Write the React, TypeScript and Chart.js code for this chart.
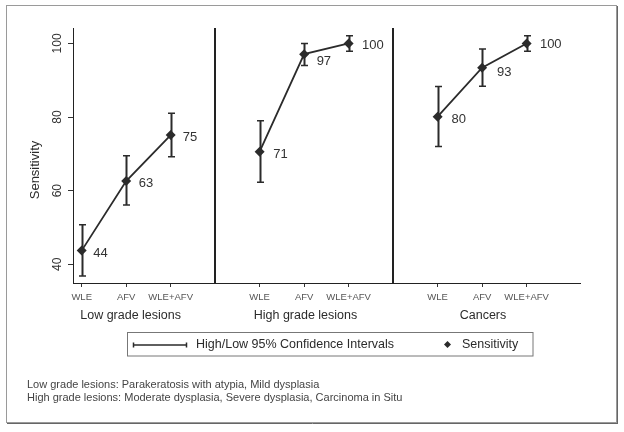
import React, { useEffect, useRef } from "react";
import { Chart, registerables } from "chart.js";

Chart.register(...registerables);

// ---- data ----
const categories = ["WLE", "AFV", "WLE+AFV"];
const panelTitles = ["Low grade lesions", "High grade lesions", "Cancers"];
const yTickValues = [40, 60, 80, 100];

const lowGradeSensitivity = [43.7, 62.6, 75.1];
const lowGradeLow = [36.8, 56.1, 69.2];
const lowGradeHigh = [50.7, 69.5, 81.0];

const highGradeSensitivity = [70.6, 97.1, 100];
const highGradeLow = [62.3, 94.0, 97.9];
const highGradeHigh = [79.0, 100.0, 102.1];

const cancerSensitivity = [80.1, 93.4, 100];
const cancerLow = [72.0, 88.4, 97.9];
const cancerHigh = [88.3, 98.5, 102.1];

const legendLabels = ["High/Low 95% Confidence Intervals", "Sensitivity"];
const yAxisTitle = "Sensitivity";
const footnotes = [
  "Low grade lesions: Parakeratosis with atypia, Mild dysplasia",
  "High grade lesions: Moderate dysplasia, Severe dysplasia, Carcinoma in Situ",
];

const sensitivities = [lowGradeSensitivity, highGradeSensitivity, cancerSensitivity];
const lows = [lowGradeLow, highGradeLow, cancerLow];
const highs = [lowGradeHigh, highGradeHigh, cancerHigh];

// ---- layout / style ----
const FONT = '"Liberation Sans", Arial, Helvetica, sans-serif';
const INK = "#2b2b2b";
const slot = (p: number, i: number) => p * 4 + i + 1;
const labelDy = [
  [3, 2.7, 2.7],
  [2.3, 7.3, 1.7],
  [2.6, 4.6, 1],
];
const labelDx = [
  [11.5, 12.5, 12],
  [13.5, 12.5, 13.3],
  [14, 15, 13.3],
];
const titleCenters = [2.1, 6.03, 10.02];

const decorPlugin = {
  id: "decor",
  beforeDraw(chart: any) {
    const ctx = chart.ctx;
    ctx.save();
    ctx.fillStyle = "#ffffff";
    ctx.fillRect(0, 0, chart.width, chart.height);
    ctx.strokeStyle = "#9a9a9a";
    ctx.lineWidth = 1;
    ctx.strokeRect(6.5, 5.5, 610, 417);
    ctx.strokeStyle = "#666";
    ctx.beginPath();
    ctx.moveTo(7, 423.5);
    ctx.lineTo(618, 423.5);
    ctx.moveTo(617.5, 6);
    ctx.lineTo(617.5, 424);
    ctx.stroke();
    ctx.restore();
  },
  beforeDatasetsDraw(chart: any) {
    const ctx = chart.ctx;
    const xs = chart.scales.x;
    const ys = chart.scales.y;
    ctx.save();
    ctx.strokeStyle = INK;
    for (let p = 0; p < 3; p++) {
      for (let i = 0; i < categories.length; i++) {
        const x = Math.round(xs.getPixelForValue(slot(p, i))) + 0.5;
        const yl = ys.getPixelForValue(lows[p][i]);
        const yh = ys.getPixelForValue(highs[p][i]);
        ctx.lineWidth = 2;
        ctx.beginPath();
        ctx.moveTo(x, yl);
        ctx.lineTo(x, yh);
        ctx.stroke();
        ctx.lineWidth = 1.5;
        ctx.beginPath();
        ctx.moveTo(x - 3.5, yl);
        ctx.lineTo(x + 3.5, yl);
        ctx.moveTo(x - 3.5, yh);
        ctx.lineTo(x + 3.5, yh);
        ctx.stroke();
      }
    }
    ctx.restore();
  },
  afterDraw(chart: any) {
    const ctx = chart.ctx;
    const xs = chart.scales.x;
    const ys = chart.scales.y;
    const area = chart.chartArea;
    ctx.save();

    // panel dividers
    ctx.strokeStyle = "#222";
    ctx.lineWidth = 2;
    [4, 8].forEach((v) => {
      const x = Math.round(xs.getPixelForValue(v));
      ctx.beginPath();
      ctx.moveTo(x, area.top);
      ctx.lineTo(x, area.bottom);
      ctx.stroke();
    });

    // value labels
    ctx.fillStyle = "#333";
    ctx.font = `13px ${FONT}`;
    ctx.textAlign = "left";
    ctx.textBaseline = "middle";
    for (let p = 0; p < 3; p++) {
      for (let i = 0; i < categories.length; i++) {
        const x = xs.getPixelForValue(slot(p, i));
        const y = ys.getPixelForValue(sensitivities[p][i]);
        ctx.fillText(String(Math.round(sensitivities[p][i])), x + labelDx[p][i], y + labelDy[p][i]);
      }
    }

    // y-axis title
    ctx.save();
    ctx.translate(35.5, 170);
    ctx.rotate(-Math.PI / 2);
    ctx.font = `13px ${FONT}`;
    ctx.fillStyle = INK;
    ctx.textAlign = "center";
    ctx.fillText(yAxisTitle, 0, 0);
    ctx.restore();

    // panel titles
    ctx.font = `12.5px ${FONT}`;
    ctx.fillStyle = INK;
    ctx.textAlign = "center";
    ctx.textBaseline = "middle";
    panelTitles.forEach((t, p) => {
      ctx.fillText(t, xs.getPixelForValue(titleCenters[p]), 316);
    });

    // legend
    ctx.strokeStyle = "#777";
    ctx.lineWidth = 1;
    ctx.strokeRect(127.5, 332.5, 405.5, 23.5);
    ctx.strokeStyle = INK;
    ctx.lineWidth = 1.5;
    ctx.beginPath();
    ctx.moveTo(133, 345);
    ctx.lineTo(187, 345);
    ctx.moveTo(133.5, 342.5);
    ctx.lineTo(133.5, 347.5);
    ctx.moveTo(186.5, 342.5);
    ctx.lineTo(186.5, 347.5);
    ctx.stroke();
    ctx.font = `12.5px ${FONT}`;
    ctx.fillStyle = INK;
    ctx.textAlign = "left";
    ctx.fillText(legendLabels[0], 196, 345);
    ctx.beginPath();
    ctx.moveTo(447.5, 341);
    ctx.lineTo(451, 344.5);
    ctx.lineTo(447.5, 348);
    ctx.lineTo(444, 344.5);
    ctx.closePath();
    ctx.fill();
    ctx.fillText(legendLabels[1], 462, 345);

    // footnotes
    ctx.font = `11px ${FONT}`;
    ctx.fillStyle = "#444";
    ctx.fillText(footnotes[0], 27, 384.7);
    ctx.fillText(footnotes[1], 27, 397.5);

    ctx.restore();
  },
};

export default function App() {
  const ref = useRef<HTMLCanvasElement | null>(null);

  useEffect(() => {
    if (!ref.current) return;
    const datasets = sensitivities.map((vals, p) => ({
      label: panelTitles[p],
      data: vals.map((v, i) => ({ x: slot(p, i), y: v })),
      borderColor: INK,
      backgroundColor: INK,
      borderWidth: 1.8,
      pointStyle: "rectRot" as const,
      pointRadius: 5,
      pointBackgroundColor: INK,
      pointBorderColor: INK,
      pointBorderWidth: 0,
      tension: 0,
      fill: false,
    }));

    const tickSlots: number[] = [];
    const tickNames: Record<number, string> = {};
    for (let p = 0; p < 3; p++) {
      categories.forEach((c, i) => {
        tickSlots.push(slot(p, i));
        tickNames[slot(p, i)] = c;
      });
    }

    const chart = new Chart(ref.current, {
      type: "line",
      data: { datasets },
      plugins: [decorPlugin],
      options: {
        animation: false,
        responsive: false,
        layout: { padding: { top: 28, right: 44, bottom: 0, left: 0 } },
        plugins: { legend: { display: false }, tooltip: { enabled: false }, title: { display: false } },
        scales: {
          x: {
            type: "linear",
            min: 0.805,
            max: 12.2,
            afterBuildTicks: (s: any) => {
              s.ticks = tickSlots.map((v) => ({ value: v }));
            },
            afterFit: (s: any) => {
              s.height = 149;
            },
            grid: { display: true, drawOnChartArea: false, drawTicks: true, tickLength: 4, color: "#333", lineWidth: 1 },
            border: { display: true, color: "#222", width: 1 },
            ticks: {
              autoSkip: false,
              maxRotation: 0,
              minRotation: 0,
              padding: 5,
              color: "#555",
              font: { family: FONT, size: 9.5 },
              callback: (v: any) => tickNames[Number(v)] ?? "",
            },
          },
          y: {
            type: "linear",
            min: 34.9,
            max: 104.2,
            afterBuildTicks: (s: any) => {
              s.ticks = yTickValues.map((v) => ({ value: v }));
            },
            afterFit: (s: any) => {
              s.width = 73;
            },
            grid: { display: true, drawOnChartArea: false, drawTicks: true, tickLength: 5, color: "#333", lineWidth: 1 },
            border: { display: true, color: "#222", width: 1 },
            ticks: {
              minRotation: 90,
              maxRotation: 90,
              crossAlign: "center",
              padding: 0,
              color: "#333",
              font: { family: FONT, size: 12 },
            },
          },
        },
      } as any,
    });
    return () => chart.destroy();
  }, []);

  return (
    <div style={{ position: "fixed", left: 0, top: 0, width: 624, height: 432, background: "#fff" }}>
      <canvas ref={ref} width={624} height={432} style={{ display: "block", width: 624, height: 432 }} />
    </div>
  );
}
